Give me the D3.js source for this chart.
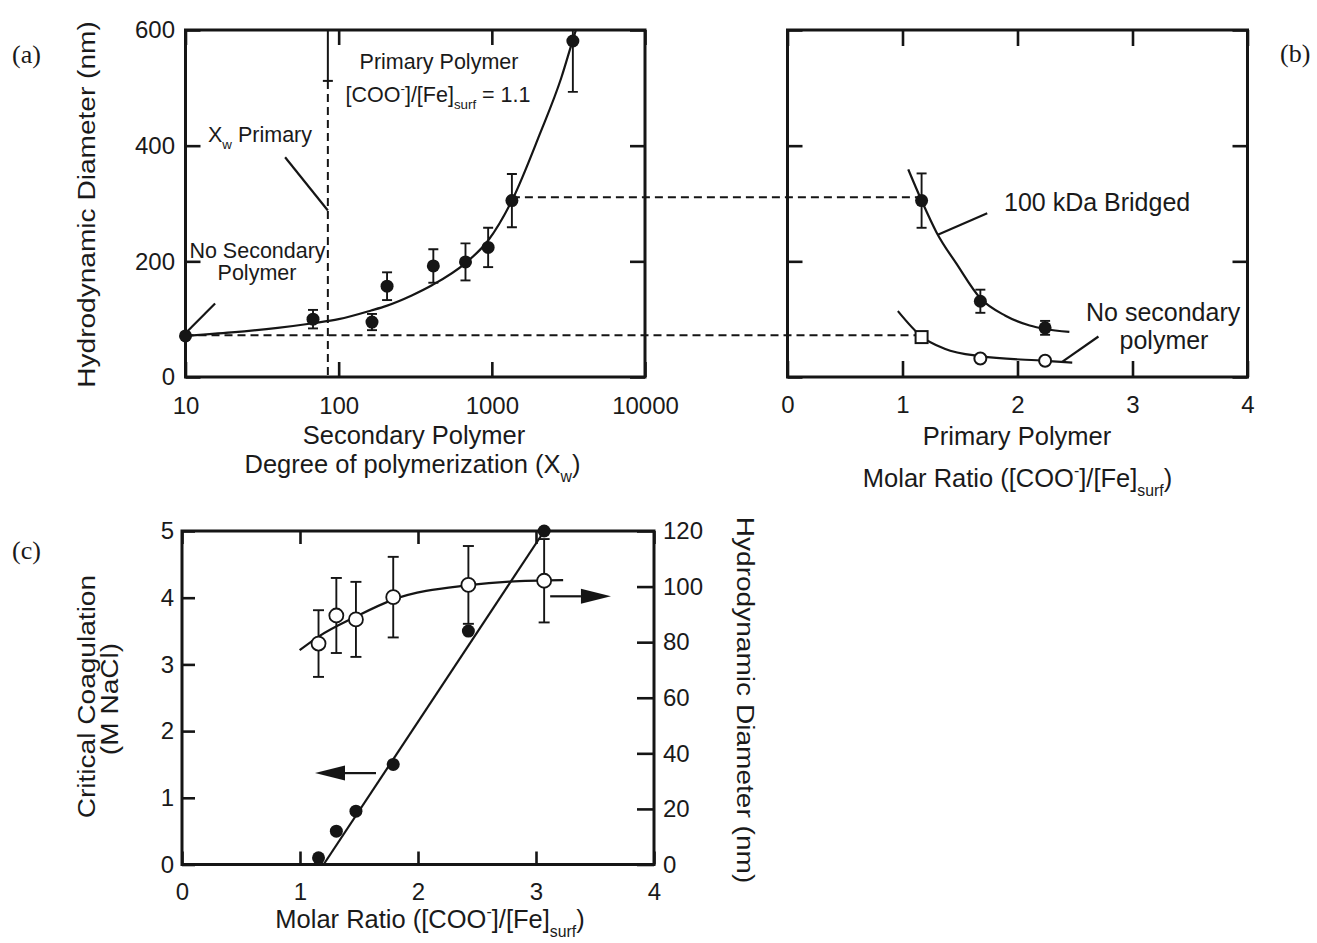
<!DOCTYPE html>
<html>
<head>
<meta charset="utf-8">
<script src="https://cdn.jsdelivr.net/npm/d3@7"></script>
<style>
  body { margin: 0; background: #fff; }
  text { font-family: "Liberation Sans", Arial, Helvetica, sans-serif; fill: #1a1a1a; }
  .serif { font-family: "Liberation Serif", "Times New Roman", serif; }
</style>
</head>
<body>
<svg id="fig" width="1317" height="943"></svg>
<script>
// ---------- (a) diameter vs. secondary polymer degree of polymerization ----------
const secDP      = [10, 68, 165, 207, 415, 673, 946, 1352, 3381];
const secDiam    = [71, 100, 95, 157, 192, 199, 224, 305, 581];
const secErr     = [0, 16, 14, 24, 29, 32, 34, 46, 88];
const secFitDP   = [10, 20, 40, 68, 100, 163, 205, 300, 409, 673, 946, 1352, 2056, 2838, 3381, 3540];
const secFitDiam = [71, 77, 85, 93, 100, 115, 123, 141, 159, 197, 236, 305, 420, 517, 583, 600];
const xwPrimary  = 85;     // Xw of the primary polymer (vertical guide)
const xwCapDiam  = 512;    // where the guide turns from solid to dashed
const linkHigh   = 311;    // dashed guide to the bridged series
const linkLow    = 72;     // dashed guide to the unbridged series
const logTicks   = [10, 100, 1000, 10000];
const diamTicks  = [0, 200, 400, 600];

// ---------- (b) diameter vs. primary polymer molar ratio ----------
const ratioBridged  = [1.166, 1.677, 2.24];
const diamBridged   = [305, 131, 85];
const errBridged    = [47, 20, 12];
const fitBridgedR   = [1.05, 1.166, 1.296, 1.472, 1.677, 1.895, 2.106, 2.24, 2.451];
const fitBridgedD   = [359, 305, 250, 195, 136, 106, 89, 83, 78];
const ratioPlain    = [1.166, 1.677, 2.24];
const diamPlain     = [69, 32, 28];
const fitPlainR     = [0.96, 1.166, 1.366, 1.677, 2.24, 2.476];
const fitPlainD     = [114, 70, 49, 36, 28, 25];
const ratioTicks    = [0, 1, 2, 3, 4];

// ---------- (c) critical coagulation and diameter vs. molar ratio ----------
const ratioC     = [1.157, 1.308, 1.474, 1.79, 2.427, 3.069];
const cccNaCl    = [0.1, 0.5, 0.8, 1.5, 3.5, 5.0];
const cccFitR    = [1.2, 3.07];
const cccFitV    = [0, 5.0];
const hdC        = [79.5, 89.6, 88.2, 96.2, 100.6, 102.1];
const hdErrC     = [12, 13.5, 13.5, 14.5, 14, 15];
const hdFitR     = [0.997, 1.157, 1.474, 1.79, 2.427, 2.774, 3.23];
const hdFitV     = [77.1, 82, 89.2, 95.3, 100.5, 101.8, 102.3];
const cccTicks   = [0, 1, 2, 3, 4, 5];
const hdTicks    = [0, 20, 40, 60, 80, 100, 120];

// annotation leader lines, in data units of their panel
const leadersA = [
  { x1: 15.6, y1: 127, x2: 10.3, y2: 79 },
  { x1: 44.7, y1: 380, x2: 85,   y2: 288 }
];
const leadersB = [
  { x1: 1.307, y1: 246, x2: 1.737, y2: 283 },
  { x1: 2.388, y1: 26,  x2: 2.704, y2: 70 }
];

const svg = d3.select("#fig");
const INK = "#151515";

// scales
const xA = d3.scaleLog().domain([10, 10000]).range([185.5, 645]);
const yA = d3.scaleLinear().domain([0, 600]).range([377, 30]);
const xB = d3.scaleLinear().domain([0, 4]).range([787.5, 1247.5]);
const yB = d3.scaleLinear().domain([0, 600]).range([377, 30]);
const xC = d3.scaleLinear().domain([0, 4]).range([182, 654]);
const yCL = d3.scaleLinear().domain([0, 5]).range([864.5, 531]);
const yCR = d3.scaleLinear().domain([0, 120]).range([864.5, 531]);

// text helper with sub/superscript parts
function label(g, x, y, parts, opts) {
  const size = opts.size, anchor = opts.anchor || "start";
  const t = g.append("text").attr("font-size", size).attr("text-anchor", anchor);
  if (opts.cls) t.attr("class", opts.cls);
  if (opts.rotate) {
    t.attr("transform", `translate(${x},${y}) rotate(${opts.rotate}) scale(${opts.stretch || 1},1)`);
  } else {
    t.attr("x", x).attr("y", y);
  }
  let cur = 0;
  (typeof parts === "string" ? [[parts, ""]] : parts).forEach(([s, kind]) => {
    const off = kind === "sub" ? 0.34 * size : kind === "sup" ? -0.42 * size : 0;
    t.append("tspan")
      .attr("dy", off - cur)
      .attr("font-size", kind ? size * 0.62 : size)
      .text(s);
    cur = off;
  });
  return t;
}

function frame(x0, x1, y0, y1) {
  svg.append("rect")
    .attr("x", x0).attr("y", y1)
    .attr("width", x1 - x0).attr("height", y0 - y1)
    .attr("fill", "none").attr("stroke", INK).attr("stroke-width", 3);
}

function drawAxis(gen, tx, ty) {
  const g = svg.append("g").attr("transform", `translate(${tx},${ty})`).call(gen);
  g.select(".domain").remove();
  g.selectAll(".tick line").attr("stroke", INK).attr("stroke-width", 2.6);
  g.selectAll(".tick text")
    .attr("font-size", 24)
    .attr("fill", "#1a1a1a")
    .attr("font-family", '"Liberation Sans", Arial, sans-serif');
  return g;
}

const line = (xs, ys) => d3.line().curve(d3.curveMonotoneX).x(d => xs(d[0])).y(d => ys(d[1]));

function errorBars(g, xs, ys, xv, yv, ev, cap) {
  const data = xv.map((x, i) => ({ x, y: yv[i], e: ev[i] })).filter(d => d.e > 0);
  const bars = g.append("g").attr("stroke", INK).attr("stroke-width", 1.9);
  bars.selectAll("line.v").data(data).join("line").attr("class", "v")
    .attr("x1", d => xs(d.x)).attr("x2", d => xs(d.x))
    .attr("y1", d => ys(d.y - d.e)).attr("y2", d => ys(d.y + d.e));
  [-1, 1].forEach(s => {
    bars.selectAll("line.c" + (s + 1)).data(data).join("line").attr("class", "c" + (s + 1))
      .attr("x1", d => xs(d.x) - cap / 2).attr("x2", d => xs(d.x) + cap / 2)
      .attr("y1", d => ys(d.y + s * d.e)).attr("y2", d => ys(d.y + s * d.e));
  });
}

// ================= panel (a) =================
frame(xA.range()[0], xA.range()[1], yA.range()[0], yA.range()[1]);
drawAxis(d3.axisBottom(xA).tickValues(logTicks).tickFormat(d3.format("d")).tickSize(-15).tickPadding(19.5), 0, 377);
drawAxis(d3.axisTop(xA).tickValues(logTicks).tickFormat("").tickSize(-15), 0, 30);
drawAxis(d3.axisLeft(yA).tickValues(diamTicks).tickSize(-15).tickPadding(10.5), 185.5, 0);
drawAxis(d3.axisRight(yA).tickValues(diamTicks).tickFormat("").tickSize(-15), 645, 0);

svg.append("clipPath").attr("id", "clipA").append("rect")
  .attr("x", 185.5).attr("y", 30).attr("width", 645 - 185.5).attr("height", 347);

// dashed guides linking (a) and (b)
const guides = svg.append("g").attr("stroke", INK).attr("stroke-width", 2).attr("stroke-dasharray", "8,5");
guides.append("line")
  .attr("x1", xA(1352)).attr("x2", xB(1.13))
  .attr("y1", yA(linkHigh)).attr("y2", yA(linkHigh));
guides.append("line")
  .attr("x1", xA(10)).attr("x2", xB(1.13))
  .attr("y1", yA(linkLow)).attr("y2", yA(linkLow));
// Xw primary guide: solid top part, small cap, dashed below
guides.append("line")
  .attr("x1", xA(xwPrimary)).attr("x2", xA(xwPrimary))
  .attr("y1", yA(xwCapDiam)).attr("y2", yA(0));
svg.append("line")
  .attr("x1", xA(xwPrimary)).attr("x2", xA(xwPrimary))
  .attr("y1", yA(600)).attr("y2", yA(xwCapDiam))
  .attr("stroke", INK).attr("stroke-width", 2);
svg.append("line")
  .attr("x1", xA(xwPrimary) - 5).attr("x2", xA(xwPrimary) + 5)
  .attr("y1", yA(xwCapDiam)).attr("y2", yA(xwCapDiam))
  .attr("stroke", INK).attr("stroke-width", 2);

const gA = svg.append("g").attr("clip-path", "url(#clipA)");
gA.append("path")
  .datum(secFitDP.map((x, i) => [x, secFitDiam[i]]))
  .attr("d", line(xA, yA)).attr("fill", "none").attr("stroke", INK).attr("stroke-width", 2.2);
errorBars(gA, xA, yA, secDP, secDiam, secErr, 10);
svg.append("g").selectAll("circle").data(secDP).join("circle")
  .attr("cx", d => xA(d)).attr("cy", (d, i) => yA(secDiam[i])).attr("r", 6.5).attr("fill", INK);

svg.append("g").attr("stroke", INK).attr("stroke-width", 2.2)
  .selectAll("line").data(leadersA).join("line")
  .attr("x1", d => xA(d.x1)).attr("y1", d => yA(d.y1))
  .attr("x2", d => xA(d.x2)).attr("y2", d => yA(d.y2));

label(svg, 439, 69, "Primary Polymer", { size: 21.5, anchor: "middle" });
label(svg, 438, 102, [["[COO", ""], ["-", "sup"], ["]/[Fe]", ""], ["surf", "sub"], [" = 1.1", ""]], { size: 21.5, anchor: "middle" });
label(svg, 208, 142, [["X", ""], ["w", "sub"], [" Primary", ""]], { size: 21.5 });
label(svg, 257.5, 258, "No Secondary", { size: 21.5, anchor: "middle" });
label(svg, 257, 280, "Polymer", { size: 21.5, anchor: "middle" });

label(svg, 95, 204.5, "Hydrodynamic Diameter (nm)", { size: 24, anchor: "middle", rotate: -90, stretch: 1.17 });
label(svg, 414, 444, "Secondary Polymer", { size: 25.5, anchor: "middle" });
label(svg, 412.5, 473, [["Degree of polymerization (X", ""], ["w", "sub"], [")", ""]], { size: 25.5, anchor: "middle" });
label(svg, 12, 63, "(a)", { size: 26, cls: "serif" });

// ================= panel (b) =================
frame(xB.range()[0], xB.range()[1], yB.range()[0], yB.range()[1]);
drawAxis(d3.axisBottom(xB).tickValues(ratioTicks).tickFormat(d3.format("d")).tickSize(-16).tickPadding(18.5), 0, 377);
drawAxis(d3.axisTop(xB).tickValues(ratioTicks).tickFormat("").tickSize(-16), 0, 30);
drawAxis(d3.axisLeft(yB).tickValues(diamTicks).tickFormat("").tickSize(-15), 787.5, 0);
drawAxis(d3.axisRight(yB).tickValues(diamTicks).tickFormat("").tickSize(-15), 1247.5, 0);

const gB = svg.append("g");
gB.append("path")
  .datum(fitBridgedR.map((x, i) => [x, fitBridgedD[i]]))
  .attr("d", line(xB, yB)).attr("fill", "none").attr("stroke", INK).attr("stroke-width", 2.2);
gB.append("path")
  .datum(fitPlainR.map((x, i) => [x, fitPlainD[i]]))
  .attr("d", line(xB, yB)).attr("fill", "none").attr("stroke", INK).attr("stroke-width", 2.2);
errorBars(gB, xB, yB, ratioBridged, diamBridged, errBridged, 10);
gB.append("g").selectAll("circle").data(ratioBridged).join("circle")
  .attr("cx", d => xB(d)).attr("cy", (d, i) => yB(diamBridged[i])).attr("r", 6.5).attr("fill", INK);
// unbridged series: first point drawn as an open square, others open circles
gB.append("rect")
  .attr("x", xB(ratioPlain[0]) - 6).attr("y", yB(diamPlain[0]) - 6)
  .attr("width", 12).attr("height", 12)
  .attr("fill", "#fff").attr("stroke", INK).attr("stroke-width", 2);
gB.append("g").selectAll("circle").data(ratioPlain.slice(1)).join("circle")
  .attr("cx", d => xB(d)).attr("cy", (d, i) => yB(diamPlain[i + 1])).attr("r", 6)
  .attr("fill", "#fff").attr("stroke", INK).attr("stroke-width", 2);

svg.append("g").attr("stroke", INK).attr("stroke-width", 2.2)
  .selectAll("line").data(leadersB).join("line")
  .attr("x1", d => xB(d.x1)).attr("y1", d => yB(d.y1))
  .attr("x2", d => xB(d.x2)).attr("y2", d => yB(d.y2));

label(svg, 1004, 211, "100 kDa Bridged", { size: 25 });
label(svg, 1086, 321, "No secondary", { size: 25 });
label(svg, 1164, 349, "polymer", { size: 25, anchor: "middle" });
label(svg, 1017, 445, "Primary Polymer", { size: 25.5, anchor: "middle" });
label(svg, 1017.5, 487, [["Molar Ratio ([COO", ""], ["-", "sup"], ["]/[Fe]", ""], ["surf", "sub"], [")", ""]], { size: 25.5, anchor: "middle" });
label(svg, 1280, 62, "(b)", { size: 26, cls: "serif" });

// ================= panel (c) =================
frame(xC.range()[0], xC.range()[1], yCL.range()[0], yCL.range()[1]);
drawAxis(d3.axisBottom(xC).tickValues(ratioTicks).tickFormat(d3.format("d")).tickSize(-13).tickPadding(18), 0, 864.5);
drawAxis(d3.axisTop(xC).tickValues(ratioTicks).tickFormat("").tickSize(-13), 0, 531);
drawAxis(d3.axisLeft(yCL).tickValues(cccTicks).tickFormat(d3.format("d")).tickSize(-13).tickPadding(8), 182, 0);
drawAxis(d3.axisRight(yCR).tickValues(hdTicks).tickFormat(d3.format("d")).tickSize(-17).tickPadding(9), 654, 0);

const gC = svg.append("g");
gC.append("path")
  .datum(cccFitR.map((x, i) => [x, cccFitV[i]]))
  .attr("d", d3.line().x(d => xC(d[0])).y(d => yCL(d[1])))
  .attr("fill", "none").attr("stroke", INK).attr("stroke-width", 2.2);
gC.append("path")
  .datum(hdFitR.map((x, i) => [x, hdFitV[i]]))
  .attr("d", line(xC, yCR)).attr("fill", "none").attr("stroke", INK).attr("stroke-width", 2.2);
errorBars(gC, xC, yCR, ratioC, hdC, hdErrC, 11);
gC.append("g").selectAll("circle").data(ratioC).join("circle")
  .attr("cx", d => xC(d)).attr("cy", (d, i) => yCR(hdC[i])).attr("r", 7)
  .attr("fill", "#fff").attr("stroke", INK).attr("stroke-width", 1.8);
gC.append("g").selectAll("circle").data(ratioC).join("circle")
  .attr("cx", d => xC(d)).attr("cy", (d, i) => yCL(cccNaCl[i])).attr("r", 6.5).attr("fill", INK);

// arrows pointing at the axis each series belongs to
function arrow(x0, x1, y) {
  const dir = Math.sign(x1 - x0), head = 30, half = 7.5;
  svg.append("line").attr("x1", x0).attr("x2", x1 - dir * head).attr("y1", y).attr("y2", y)
    .attr("stroke", INK).attr("stroke-width", 2.2);
  svg.append("path")
    .attr("d", `M${x1},${y} L${x1 - dir * head},${y - half} L${x1 - dir * head},${y + half} Z`)
    .attr("fill", INK);
}
arrow(xC(3.12), xC(3.635), yCR(96.5));
arrow(xC(1.644), xC(1.127), yCL(1.37));

label(svg, 95, 696.6, "Critical Coagulation", { size: 24, anchor: "middle", rotate: -90, stretch: 1.17 });
label(svg, 118, 699, "(M NaCl)", { size: 24, anchor: "middle", rotate: -90, stretch: 1.17 });
label(svg, 736.5, 700, "Hydrodynamic Diameter (nm)", { size: 24, anchor: "middle", rotate: 90, stretch: 1.17 });
label(svg, 430, 928, [["Molar Ratio ([COO", ""], ["-", "sup"], ["]/[Fe]", ""], ["surf", "sub"], [")", ""]], { size: 25.5, anchor: "middle" });
label(svg, 12, 559, "(c)", { size: 26, cls: "serif" });
</script>
</body>
</html>
